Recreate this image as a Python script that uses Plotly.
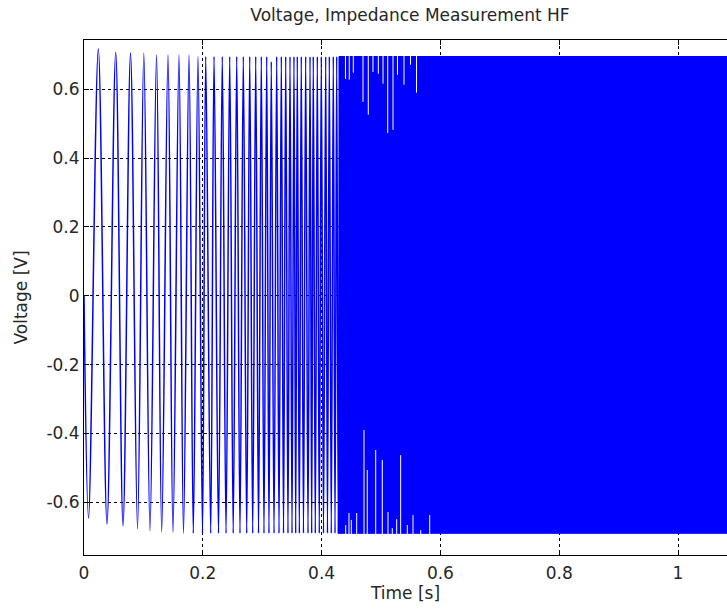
import plotly.graph_objects as go

# ---- data ----
# sparse part of the sweep: successive extrema (time [s], voltage [V])
ext_t = [0.0, 0.0076, 0.0241, 0.0387, 0.0534, 0.0657, 0.0783, 0.0901, 0.1007, 0.1111,
         0.1221, 0.1308, 0.1414, 0.1498, 0.1599, 0.1675, 0.1768, 0.1840, 0.1919, 0.1995,
         0.2049, 0.2133, 0.2189, 0.2264, 0.2328, 0.2391, 0.2453, 0.2512, 0.2571, 0.2626,
         0.2682, 0.2739, 0.2790, 0.2840, 0.2891, 0.2938, 0.2985, 0.3030, 0.3076, 0.3114,
         0.3153, 0.3199, 0.3244, 0.3283, 0.3322, 0.3359, 0.3396, 0.3434, 0.3468, 0.3502,
         0.3535, 0.3564, 0.3591, 0.3625, 0.3658, 0.3695, 0.3732, 0.3771, 0.3805, 0.3833,
         0.3860, 0.3894, 0.3928, 0.3961, 0.3995, 0.4032, 0.4069, 0.4099, 0.4130, 0.4163,
         0.4197, 0.4226, 0.4254, 0.4281, 0.4310]
ext_v = [0.0, -0.646, 0.717, -0.663, 0.707, -0.668, 0.705, -0.677, 0.705, -0.683,
         0.700, -0.686, 0.700, -0.688, 0.700, -0.690, 0.700, -0.690, 0.695, -0.690,
         0.695, -0.690, 0.695, -0.690, 0.695, -0.690, 0.695, -0.690, 0.695, -0.690,
         0.695, -0.690, 0.695, -0.690, 0.695, -0.690, 0.695, -0.690, 0.695, -0.690,
         0.680, -0.690, 0.695, -0.690, 0.695, -0.690, 0.695, -0.690, 0.695, -0.690,
         0.695, -0.690, 0.695, -0.690, 0.695, -0.690, 0.695, -0.690, 0.695, -0.690,
         0.695, -0.690, 0.695, -0.690, 0.695, -0.690, 0.695, -0.690, 0.695, -0.690,
         0.695, -0.690, 0.695, -0.690, 0.695]

# dense part of the sweep (oscillations fill the band completely)
band_t = [0.4293, 1.0900]
band_top = 0.695
band_bottom = -0.690

# white gaps visible inside the dense band, hanging from the top edge
gap_top_t = [0.4402, 0.4466, 0.4534, 0.4697, 0.4786, 0.4865, 0.4955, 0.5034,
             0.5113, 0.5202, 0.5278, 0.5387, 0.5497, 0.5598]
gap_top_v = [0.630, 0.628, 0.648, 0.563, 0.526, 0.650, 0.645, 0.616,
             0.473, 0.482, 0.642, 0.613, 0.671, 0.590]
# white gaps rising from the bottom edge
gap_bot_t = [0.4406, 0.4461, 0.4500, 0.4591, 0.4714, 0.4769, 0.4911, 0.5022,
             0.5118, 0.5190, 0.5264, 0.5331, 0.5443, 0.5539, 0.5669, 0.5820]
gap_bot_v = [-0.666, -0.631, -0.651, -0.631, -0.390, -0.506, -0.448, -0.477,
             -0.628, -0.675, -0.649, -0.463, -0.666, -0.637, -0.681, -0.637]

x_ticks = [0, 0.2, 0.4, 0.6, 0.8, 1.0]
x_labels = ["0", "0.2", "0.4", "0.6", "0.8", "1"]
y_ticks = [-0.6, -0.4, -0.2, 0, 0.2, 0.4, 0.6]
y_labels = ["-0.6", "-0.4", "-0.2", "0", "0.2", "0.4", "0.6"]

BLUE = "#0000ff"
FONT = "DejaVu Sans"
TXT = "#262626"
FS = 17

fig = go.Figure()

# dense band
fig.add_trace(go.Scatter(
    x=[band_t[0], band_t[1], band_t[1], band_t[0], band_t[0]],
    y=[band_top, band_top, band_bottom, band_bottom, band_top],
    fill="toself", fillcolor=BLUE, mode="lines",
    line=dict(color=BLUE, width=1), hoverinfo="skip", showlegend=False))

# white gaps
gx, gy = [], []
for t, v in zip(gap_top_t, gap_top_v):
    gx += [t, t, None]
    gy += [band_top + 0.005, v, None]
for t, v in zip(gap_bot_t, gap_bot_v):
    gx += [t, t, None]
    gy += [band_bottom - 0.005, v, None]
fig.add_trace(go.Scatter(x=gx, y=gy, mode="lines",
                         line=dict(color="white", width=1),
                         hoverinfo="skip", showlegend=False))

# sparse sweep (smooth curve through the extrema)
fig.add_trace(go.Scatter(x=ext_t, y=ext_v, mode="lines",
                         line=dict(color=BLUE, width=1.5, shape="spline", smoothing=1.0),
                         showlegend=False))

axis_common = dict(
    showline=True, linecolor="black", linewidth=1,
    ticks="inside", ticklen=5, tickcolor="black",
    showgrid=True, gridcolor="black", gridwidth=1, griddash="3px,3px",
    zeroline=False,
    tickfont=dict(family=FONT, size=FS, color=TXT),
)

fig.update_layout(
    width=727, height=611,
    margin=dict(l=84, r=0, t=40, b=56),
    paper_bgcolor="white", plot_bgcolor="white",
    font=dict(family=FONT, size=FS, color=TXT),
    title=dict(text="Voltage, Impedance Measurement HF",
               x=(410 - 84) / 643, xref="paper", xanchor="center",
               y=1 - 15 / 611, yref="container", yanchor="middle",
               font=dict(family=FONT, size=FS, color=TXT)),
    xaxis=dict(range=[0, 1.0825], tickvals=x_ticks, ticktext=x_labels,
               mirror="ticks", ticklabelstandoff=3,
               title=dict(text="Time [s]", font=dict(family=FONT, size=FS, color=TXT),
                          standoff=4),
               **axis_common),
    yaxis=dict(range=[-0.753, 0.743], tickvals=y_ticks, ticktext=y_labels,
               mirror=False,
               title=dict(text="Voltage [V]", font=dict(family=FONT, size=FS, color=TXT),
                          standoff=14),
               **axis_common),
)

fig.write_html("out.html")
